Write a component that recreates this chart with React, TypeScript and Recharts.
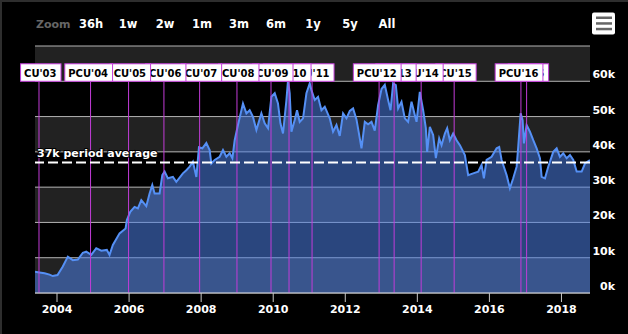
import React from 'react';
import { AreaChart, Area, XAxis, YAxis, CartesianGrid, ReferenceLine } from 'recharts';

const years = [2003.389, 2003.514, 2003.653, 2003.792, 2003.883, 2004.014, 2004.161, 2004.3, 2004.439, 2004.578,
  2004.717, 2004.811, 2004.95, 2005.089, 2005.228, 2005.383, 2005.458, 2005.55, 2005.736, 2005.903,
  2005.939, 2006.033, 2006.153, 2006.244, 2006.339, 2006.478, 2006.569, 2006.644, 2006.708, 2006.847,
  2006.922, 2006.986, 2007.078, 2007.217, 2007.311, 2007.494, 2007.589, 2007.681, 2007.772, 2007.867,
  2007.939, 2008.033, 2008.144, 2008.236, 2008.283, 2008.375, 2008.514, 2008.606, 2008.7, 2008.792,
  2008.867, 2008.931, 2009.022, 2009.161, 2009.256, 2009.347, 2009.439, 2009.533, 2009.672, 2009.764,
  2009.856, 2009.95, 2010.042, 2010.133, 2010.2, 2010.272, 2010.367, 2010.411, 2010.458, 2010.506,
  2010.597, 2010.661, 2010.736, 2010.828, 2010.922, 2011.014, 2011.061, 2011.153, 2011.244, 2011.339,
  2011.431, 2011.569, 2011.661, 2011.756, 2011.847, 2011.939, 2012.033, 2012.125, 2012.217, 2012.311,
  2012.403, 2012.45, 2012.542, 2012.633, 2012.728, 2012.819, 2012.911, 2013.006, 2013.097, 2013.189,
  2013.256, 2013.328, 2013.403, 2013.467, 2013.561, 2013.653, 2013.744, 2013.839, 2013.931, 2013.978,
  2014.069, 2014.161, 2014.236, 2014.272, 2014.347, 2014.439, 2014.514, 2014.606, 2014.672, 2014.764,
  2014.828, 2014.903, 2014.994, 2015.089, 2015.181, 2015.319, 2015.411, 2015.55, 2015.689, 2015.783,
  2015.847, 2015.922, 2016.061, 2016.2, 2016.272, 2016.339, 2016.478, 2016.569, 2016.661, 2016.756,
  2016.8, 2016.867, 2016.922, 2016.958, 2017.033, 2017.125, 2017.217, 2017.311, 2017.403, 2017.45,
  2017.542, 2017.633, 2017.772, 2017.867, 2017.958, 2018.05, 2018.144, 2018.236, 2018.328, 2018.422,
  2018.561, 2018.653, 2018.792];

// values in thousands
const values = [6.0, 5.8, 5.6, 5.2, 4.8, 5.1, 7.5, 10.3, 9.3, 9.5,
  11.4, 11.7, 10.8, 12.7, 12.0, 12.2, 10.8, 13.6, 16.9, 18.3,
  20.7, 23.0, 24.4, 24.0, 26.3, 24.6, 28.2, 30.6, 28.2, 28.2,
  33.4, 34.4, 32.5, 32.9, 31.5, 33.9, 34.8, 35.8, 37.2, 32.9,
  41.3, 41.0, 42.5, 40.5, 36.7, 37.7, 38.6, 40.5, 38.6, 39.6,
  38.2, 43.3, 47.6, 53.7, 50.9, 51.8, 49.9, 46.2, 50.9, 48.1,
  46.7, 55.6, 56.6, 53.7, 48.1, 45.2, 54.7, 60.3, 56.6, 45.7,
  49.0, 51.8, 48.5, 49.5, 56.6, 59.4, 57.5, 54.7, 55.6, 51.8,
  52.8, 49.5, 45.7, 47.6, 44.5, 50.9, 49.5, 51.6, 52.3, 49.2,
  43.8, 41.0, 48.5, 47.8, 48.5, 46.0, 53.2, 57.8, 59.0, 54.7,
  51.8, 59.4, 58.9, 52.3, 54.2, 49.5, 48.5, 54.2, 50.4, 48.5,
  57.0, 51.8, 46.7, 40.0, 47.1, 44.8, 38.2, 43.8, 41.9, 45.2,
  46.7, 43.3, 45.2, 43.3, 41.9, 39.1, 33.4, 33.9, 34.4, 36.3,
  32.5, 37.7, 38.6, 41.0, 41.4, 37.7, 33.4, 29.7, 32.5, 35.8,
  41.4, 50.9, 49.0, 42.4, 47.6, 45.7, 43.3, 41.0, 38.2, 32.9,
  32.5, 35.8, 40.0, 41.0, 38.6, 39.6, 38.2, 39.1, 37.7, 34.4,
  34.4, 36.7, 37.7];

const flagYears = [2003.5, 2004.931, 2005.986, 2006.967, 2007.958, 2008.994, 2009.939, 2010.439, 2011.078,
  2012.939, 2013.356, 2014.106, 2015.022, 2016.875, 2017.033];
const flagLabels = ["CU'03", "PCU'04", "CU'05", "CU'06", "CU'07", "CU'08", "CU'09", "PCU'10", "CU'11",
  "PCU'12", "CU'13", "CU'14", "CU'15", "PCU'16", "CU'16"];

const averageValue = 37;
const averageLabel = '37k period average';
const yTicks = [0, 10, 20, 30, 40, 50, 60, 70];
const xTicks = [2004, 2006, 2008, 2010, 2012, 2014, 2016, 2018];
const zoomLabel = 'Zoom';
const zoomButtons = ['36h', '1w', '2w', '1m', '3m', '6m', '1y', '5y', 'All'];

const data = years.map((y, i) => ({ year: y, v: values[i] }));

const FONT = "'DejaVu Sans', Verdana, sans-serif";
const FLAG_COLOR = '#c23cd8';
const FLAG_FONT = `bold 10px ${FONT}`;

let measureCtx: CanvasRenderingContext2D | null = null;
function textWidth(t: string): number {
  if (!measureCtx) {
    const c = document.createElement('canvas');
    measureCtx = c.getContext('2d');
  }
  if (!measureCtx) return t.length * 6.5;
  measureCtx.font = FLAG_FONT;
  return measureCtx.measureText(t).width;
}

function renderFlag(p: any, text: string) {
  const x = p.x1;
  const top = Math.min(p.y1, p.y2);
  const bottom = Math.max(p.y1, p.y2);
  const w = textWidth(text) + 8;
  const right = x + 22;
  const left = right - w;
  return (
    <g>
      <line x1={x} y1={bottom} x2={x} y2={top} stroke={FLAG_COLOR} strokeWidth={1} />
      <rect x={left} y={top - 17.5} width={w} height={17.5} fill="#ffffff" stroke={FLAG_COLOR} strokeWidth={1} />
      <text x={left + 3.5} y={top - 4.5} fontFamily={FONT} fontWeight="bold" fontSize={10} fill="#000">{text}</text>
    </g>
  );
}

function renderAverage(p: any) {
  const x0 = Math.min(p.x1, p.x2);
  return (
    <g>
      <line x1={p.x1} y1={p.y1} x2={p.x2} y2={p.y2} stroke="#ffffff" strokeWidth={2} strokeDasharray="10 4" />
      <text x={x0 + 2} y={p.y1 - 5} fontFamily={FONT} fontWeight="bold" fontSize={11} fill="#ffffff"
        stroke="#000" strokeWidth={2} strokeLinejoin="round" style={{ paintOrder: 'stroke' }}>{averageLabel}</text>
    </g>
  );
}

const YTick = (props: any) => {
  const { x, y, payload } = props;
  if (payload.value === 70) return null;
  return (
    <text x={x + 17} y={y - 3} textAnchor="end" fontFamily={FONT} fontWeight="bold" fontSize={11} fill="#ffffff">
      {`${payload.value}k`}
    </text>
  );
};

const XTick = (props: any) => {
  const { x, y, payload } = props;
  return (
    <text x={x} y={y + 9} textAnchor="middle" fontFamily={FONT} fontWeight="bold" fontSize={11} fill="#ffffff">
      {payload.value}
    </text>
  );
};

export default function App() {
  const flagOrder = flagYears.map((fy, i) => ({ fy, i })).reverse();
  return (
    <div style={{ position: 'absolute', left: 0, top: 0, width: 628, height: 334, background: '#000', overflow: 'hidden' }}>
      <AreaChart width={628} height={334} data={data} margin={{ top: 46, right: 0, left: 35, bottom: 11 }}>
        <CartesianGrid vertical={false} stroke="#b4b4b4" horizontalFill={['#222222', '#000000']} fillOpacity={1} />
        <XAxis type="number" dataKey="year" domain={[years[0], years[years.length - 1]]} ticks={xTicks}
          height={30} stroke="#c8c8c8" tickSize={9} tick={<XTick />} allowDataOverflow />
        <YAxis orientation="right" width={38} domain={[0, 70]} ticks={yTicks} axisLine={false} tickLine={false}
          tick={<YTick />} interval={0} />
        <Area type="linear" dataKey="v" stroke="#5590f5" strokeWidth={2} fill="#4d80e6" fillOpacity={0.55}
          isAnimationActive={false} dot={false} activeDot={false} />
        {flagOrder.map(({ fy, i }) => (
          <ReferenceLine key={`f${i}`} segment={[{ x: fy, y: 0 }, { x: fy, y: 60 }]}
            shape={(p: any) => renderFlag(p, flagLabels[i])} />
        ))}
        <ReferenceLine y={averageValue} shape={(p: any) => renderAverage(p)} />
      </AreaChart>
      <svg width={628} height={40} style={{ position: 'absolute', left: 0, top: 0 }}>
        <text x={36} y={28} fontFamily={FONT} fontWeight="bold" fontSize={11} fill="#666666">{zoomLabel}</text>
        {zoomButtons.map((b, i) => (
          <text key={b} x={91 + i * 37} y={28} textAnchor="middle" fontFamily={FONT} fontWeight="bold" fontSize={11.5} fill="#ffffff">{b}</text>
        ))}
        <rect x={592} y={12.5} width={23} height={22} rx={2} fill="#ffffff" />
        <rect x={596} y={16.5} width={16} height={2.5} fill="#666666" />
        <rect x={596} y={22.2} width={16} height={2.5} fill="#666666" />
        <rect x={596} y={27.8} width={16} height={2.5} fill="#666666" />
      </svg>
      <div style={{ position: 'absolute', left: 0, top: 0, width: 628, height: 2, background: '#2e2e2e' }} />
      <div style={{ position: 'absolute', left: 0, top: 0, width: 2, height: 334, background: '#2e2e2e' }} />
    </div>
  );
}
